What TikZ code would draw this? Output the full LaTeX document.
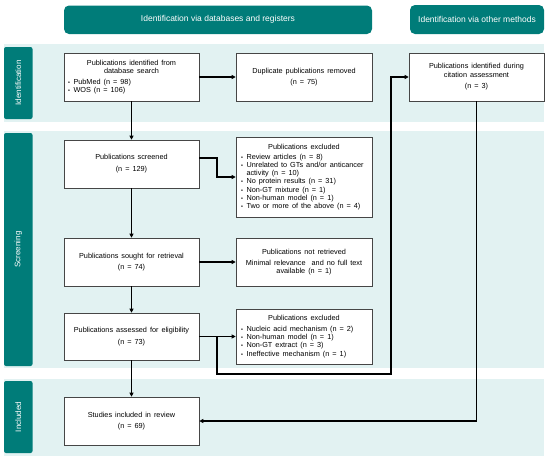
\documentclass[tikz,border=0pt]{standalone}
\usepackage{fontspec}
\setmainfont{Liberation Sans}
\usetikzlibrary{arrows.meta}
\definecolor{teal1}{RGB}{0,124,121}
\definecolor{band}{RGB}{226,242,242}
\definecolor{boxline}{RGB}{70,70,70}
\newcommand{\bl}{\hspace*{1pt}\makebox[5.5pt][l]{\scalebox{0.75}{\textbullet}}}
\newcommand{\wsp}{\spaceskip=3pt plus 1pt minus 0.5pt\relax}
\newcommand{\boxfont}{\fontsize{7.3}{8.2}\selectfont\wsp}
\newcommand{\listbox}[3]{\begin{minipage}{#1}\wsp{\centering #2\par}#3\end{minipage}}
\begin{document}
\begin{tikzpicture}[x=1pt,y=-1pt,
  boxnode/.style={draw=boxline, fill=white, line width=0.6pt, inner sep=0pt, font=\boxfont, align=center},
  listnode/.style={draw=boxline, fill=white, line width=0.6pt, inner sep=0pt, font=\boxfont},
  hdr/.style={fill=teal1, rounded corners=5pt, text=white, font=\fontsize{8.5}{10}\selectfont, inner sep=0pt},
  side/.style={fill=teal1, rounded corners=2pt, text=white, font=\fontsize{8}{10}\selectfont, inner sep=0pt},
  conn/.style={line width=1.3pt, black},
  arr/.style={conn, -{Triangle[length=4pt,width=4pt]}}
]
\useasboundingbox (0,0) rectangle (550,461);
% bands
\fill[band] (4,44) rectangle (544,122);
\fill[band] (4,131) rectangle (544,368);
\fill[band] (4,379) rectangle (544,456);
% headers
\node[hdr, minimum width=308pt, minimum height=28.5pt] (h1) at (218,19.75) {Identification via databases and registers};
\node[hdr, minimum width=134pt, minimum height=29pt] (h2) at (477,19.5) {Identification via other methods};
% sidebars
\node[side, minimum width=72pt, minimum height=28.5pt, rotate=90] (s1) at (18.25,83) {Identification};
\node[side, minimum width=233pt, minimum height=28.5pt, rotate=90] (s2) at (18.25,249.5) {Screening};
\node[side, minimum width=72pt, minimum height=28.5pt, rotate=90] (s3) at (18.25,417) {Included};
% boxes
\node[listnode, minimum width=135pt, minimum height=48pt] (b1) at (131.5,77)
  {\listbox{129pt}{Publications identified from\\database search}{\vspace{2.5pt}%
   \bl PubMed (n = 98)\\\bl WOS (n = 106)}};
\node[boxnode, minimum width=136pt, minimum height=48pt] (dup) at (304,77)
  {Duplicate publications removed\\[3.4pt](n = 75)};
\node[boxnode, minimum width=135pt, minimum height=48pt] (cit) at (476.5,77)
  {Publications identified during\\citation assessment\\[3.4pt](n = 3)};
\node[boxnode, minimum width=135pt, minimum height=48pt] (scr) at (131.5,164)
  {Publications screened\\[4pt](n = 129)};
\node[listnode, minimum width=136pt, minimum height=80pt] (ex1) at (304,177)
  {\listbox{128pt}{Publications excluded}{\vspace{1.7pt}%
   \bl Review articles (n = 8)\\
   \bl Unrelated to GTs and/or anticancer\\
   \hspace*{6.5pt}activity (n = 10)\\
   \bl No protein results (n = 31)\\
   \bl Non-GT mixture (n = 1)\\
   \bl Non-human model (n = 1)\\
   \bl Two or more of the above (n = 4)}};
\node[boxnode, minimum width=135pt, minimum height=48pt] (sou) at (131.5,262)
  {Publications sought for retrieval\\[3.4pt](n = 74)};
\node[boxnode, minimum width=136pt, minimum height=48pt] (nr) at (304,262)
  {Publications not retrieved\\[2.7pt]Minimal relevance \ and no full text\\available (n = 1)};
\node[boxnode, minimum width=135pt, minimum height=47pt] (ass) at (131.5,336.5)
  {Publications assessed for eligibility\\[3.4pt](n = 73)};
\node[listnode, minimum width=136pt, minimum height=55pt] (ex2) at (304,336.5)
  {\listbox{128pt}{Publications excluded}{\vspace{2.5pt}%
   \bl Nucleic acid mechanism (n = 2)\\
   \bl Non-human model (n = 1)\\
   \bl Non-GT extract (n = 3)\\
   \bl Ineffective mechanism (n = 1)}};
\node[boxnode, minimum width=135pt, minimum height=48pt] (stu) at (131.5,421)
  {Studies included in review\\[3.4pt](n = 69)};
% connectors
\draw[arr] (b1.east) -- (dup.west);
\draw[arr] (b1.south) -- (scr.north);
\draw[arr] (scr.south) -- (sou.north);
\draw[arr] (sou.south) -- (ass.north);
\draw[arr] (ass.south) -- (stu.north);
\coordinate (k1) at (217,158);
\draw[arr] (scr.east |- k1) -- (k1) |- (ex1.west);
\draw[arr] (sou.east) -- (nr.west);
\draw[arr] (ass.east) -- (ex2.west);
\coordinate (k2) at (217,374);
\coordinate (k3) at (391,374);
\draw[arr] (k2 |- ass.east) -- (k2) -- (k3) |- (cit.west);
\draw[arr] (cit.south) |- (stu.east);
\end{tikzpicture}
\end{document}
